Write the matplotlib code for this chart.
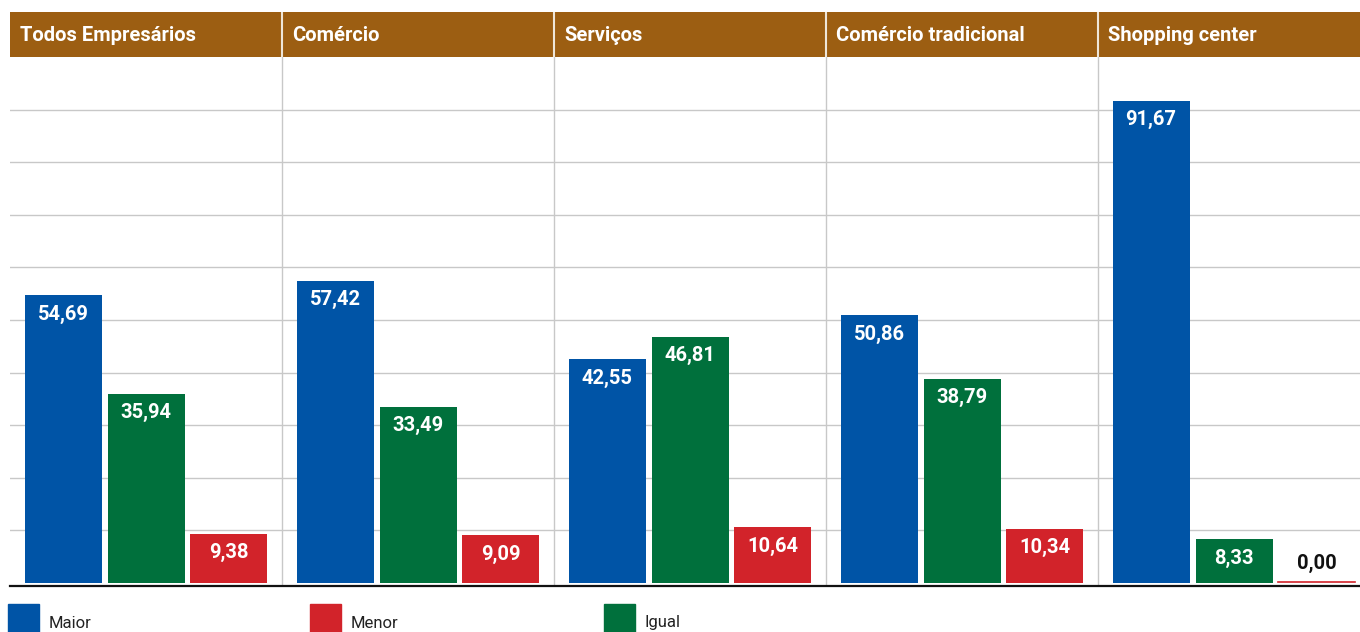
import matplotlib
matplotlib.use("Agg")
import matplotlib.pyplot as plt
from matplotlib.patches import Rectangle

# data
groups = ["Todos Empresários", "Comércio", "Serviços", "Comércio tradicional", "Shopping center"]
maior = [54.69, 57.42, 42.55, 50.86, 91.67]
igual = [35.94, 33.49, 46.81, 38.79, 8.33]
menor = [9.38, 9.09, 10.64, 10.34, 0.00]
series_names = ["Maior", "Igual", "Menor"]
legend_order = ["Maior", "Menor", "Igual"]

colors = {"Maior": "#0054a6", "Igual": "#00703c", "Menor": "#d2232a"}
brown = "#9c5e12"
grid_c = "#c8c8c8"

plt.rcParams["font.family"] = ["Roboto", "DejaVu Sans"]

W, H = 1360, 632
fig = plt.figure(figsize=(W / 100, H / 100), dpi=100)

def fx(px):
    return px / W

def fy(px):
    return (H - px) / H

# main axes: x in panel units (each panel 272 px wide, last one clipped)
ax = fig.add_axes([fx(10), fy(586), fx(1360), fy(57) - fy(586)])
ax.set_xlim(0, len(groups))
ax.set_ylim(-0.57, 100)
for s in ["top", "left", "right"]:
    ax.spines[s].set_visible(False)
ax.spines["bottom"].set_linewidth(1.6)
ax.spines["bottom"].set_color("#111111")
ax.set_xticks([])
ax.set_yticks([])

for g in range(10, 100, 10):
    ax.axhline(g, color=grid_c, lw=1.0, zorder=0)
for b in range(1, len(groups)):
    ax.axvline(b, color=grid_c, lw=1.0, zorder=0)

width = 77 / 272
offsets = [-0.305, 0.0, 0.305]
data = {"Maior": maior, "Igual": igual, "Menor": menor}
for k, name in enumerate(series_names):
    vals = data[name]
    xs = [i + 0.5 + offsets[k] for i in range(len(groups))]
    ax.bar(xs, vals, width=width, color=colors[name], zorder=2)
    for x, v in zip(xs, vals):
        lab = f"{v:.2f}".replace(".", ",")
        if v == 0:
            ax.plot([x - width / 2, x + width / 2], [0.2, 0.2], color=colors[name], lw=1.2, zorder=3)
            ax.text(x, 3.8, lab, ha="center", va="center", color="#111111",
                    fontsize=14.5, fontweight="bold", zorder=4)
        else:
            ax.text(x, v - 3.6, lab, ha="center", va="center", color="white",
                    fontsize=14.5, fontweight="bold", zorder=4)

# header band
hx = fig.add_axes([fx(10), fy(57), fx(1360), fy(12) - fy(57)])
hx.set_xlim(0, len(groups))
hx.set_ylim(0, 1)
hx.axis("off")
hx.bar([i + 0.5 for i in range(len(groups))], [1] * len(groups), width=1.0, color=brown)
for b in range(1, len(groups)):
    hx.axvline(b, color="#efe6d8", lw=1.5)
for i, g in enumerate(groups):
    hx.text(i + 10 / 272, 0.47, g, ha="left", va="center", color="white",
            fontsize=14.5, fontweight="bold")

# legend
leg_pos = {"Maior": 8, "Menor": 310, "Igual": 604}
for name in legend_order:
    x0 = leg_pos[name]
    fig.patches.append(Rectangle((fx(x0), fy(632)), fx(31), fy(604) - fy(632),
                                 transform=fig.transFigure, color=colors[name]))
    fig.text(fx(x0 + 41), fy(623), name, ha="left", va="center", color="#222222", fontsize=12)

fig.savefig("out.png", dpi=100)
